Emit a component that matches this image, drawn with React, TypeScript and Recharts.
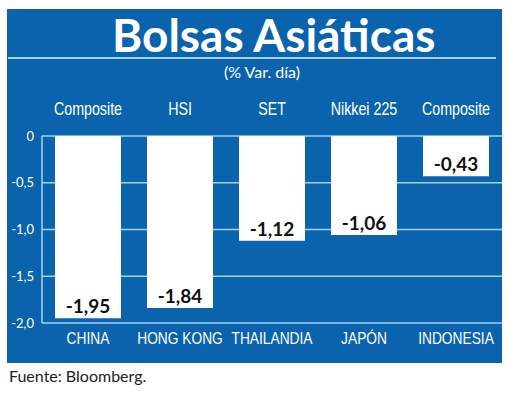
import { Bar, BarChart, CartesianGrid, LabelList, XAxis, YAxis } from "recharts";

const countries = ["CHINA", "HONG KONG", "THAILANDIA", "JAPÓN", "INDONESIA"];
const indices = ["Composite", "HSI", "SET", "Nikkei 225", "Composite"];
const changes = [-1.95, -1.84, -1.12, -1.06, -0.43];
const yTicks = [0, -0.5, -1, -1.5, -2];

const data = countries.map((country, i) => ({ country, change: changes[i] }));

const BLUE = "#0b63ae";
const GRID = "#9fd3f2";

const fmt2 = (v: number) => v.toFixed(2).replace(".", ",");
const fmt1 = (v: number) => (v === 0 ? "0" : v.toFixed(1).replace(".", ","));

// condensed look: Liberation Sans squeezed horizontally
const NarrowTick = (props: any) => {
  const { x, y, payload, index, size, squeeze, dy, labels } = props;
  const label = labels ? labels[index] : payload.value;
  return (
    <text
      x={0}
      y={0}
      transform={`translate(${x},${y + dy}) scale(${squeeze},1)`}
      textAnchor="middle"
      fill="#fff"
      fontFamily="'Liberation Sans', Arial, sans-serif"
      fontSize={size}
    >
      {label}
    </text>
  );
};

const ValueLabel = (props: any) => {
  const { x, y, width, height, value } = props;
  const bottom = Math.max(y, y + height);
  return (
    <text
      x={x + width / 2}
      y={bottom - 5}
      textAnchor="middle"
      fill="#111"
      fontFamily="Lato"
      fontWeight={700}
      fontSize={19}
    >
      {fmt2(value)}
    </text>
  );
};

export default function App() {
  return (
    <div style={{ position: "absolute", left: 0, top: 0, width: 520, height: 400, background: "#fff" }}>
      <div style={{ position: "absolute", left: 7, top: 9, width: 495, height: 354, background: BLUE }} />
      <div
        style={{
          position: "absolute",
          left: 112,
          top: 12,
          fontFamily: "Lato",
          fontWeight: 700,
          fontSize: 46,
          lineHeight: "46px",
          color: "#fff",
          whiteSpace: "nowrap",
        }}
      >
        Bolsas Asiáticas
      </div>
      <div style={{ position: "absolute", left: 8, top: 57, width: 488, height: 1.5, background: GRID }} />
      <div
        style={{
          position: "absolute",
          left: 0,
          width: 524,
          top: 64,
          textAlign: "center",
          fontFamily: "Lato",
          fontSize: 16,
          lineHeight: "16px",
          color: "#fff",
        }}
      >
        (% Var. día)
      </div>
      <div
        style={{
          position: "absolute",
          left: 9,
          top: 368,
          fontFamily: "Lato",
          fontSize: 16,
          lineHeight: "16px",
          color: "#222",
          whiteSpace: "nowrap",
        }}
      >
        Fuente: Bloomberg.
      </div>
      <div style={{ position: "absolute", left: 0, top: 0 }}>
        <BarChart
          width={520}
          height={400}
          data={data}
          margin={{ top: 96, right: 18, bottom: 37, left: 0 }}
        >
          <CartesianGrid stroke={GRID} strokeWidth={1.5} vertical={false} />
          <XAxis
            xAxisId="top"
            orientation="top"
            dataKey="country"
            interval={0}
            height={40}
            axisLine={false}
            tickLine={false}
            tickSize={0}
            tickMargin={21}
            tick={<NarrowTick size={19} squeeze={0.75} dy={0} labels={indices} />}
          />
          <XAxis
            dataKey="country"
            interval={0}
            height={40}
            axisLine={false}
            tickLine={false}
            tickSize={0}
            tickMargin={10}
            tick={<NarrowTick size={16} squeeze={0.86} dy={11} />}
          />
          <YAxis
            width={42}
            domain={[-2, 0]}
            ticks={yTicks}
            tickFormatter={fmt1}
            axisLine={{ stroke: GRID, strokeWidth: 1.5 }}
            tickLine={false}
            tickSize={0}
            tickMargin={8}
            tick={{ fill: "#fff", fontSize: 13, fontFamily: "Lato" }}
          />
          <Bar dataKey="change" fill="#fff" barSize={66} isAnimationActive={false}>
            <LabelList dataKey="change" content={ValueLabel} />
          </Bar>
        </BarChart>
      </div>
    </div>
  );
}
